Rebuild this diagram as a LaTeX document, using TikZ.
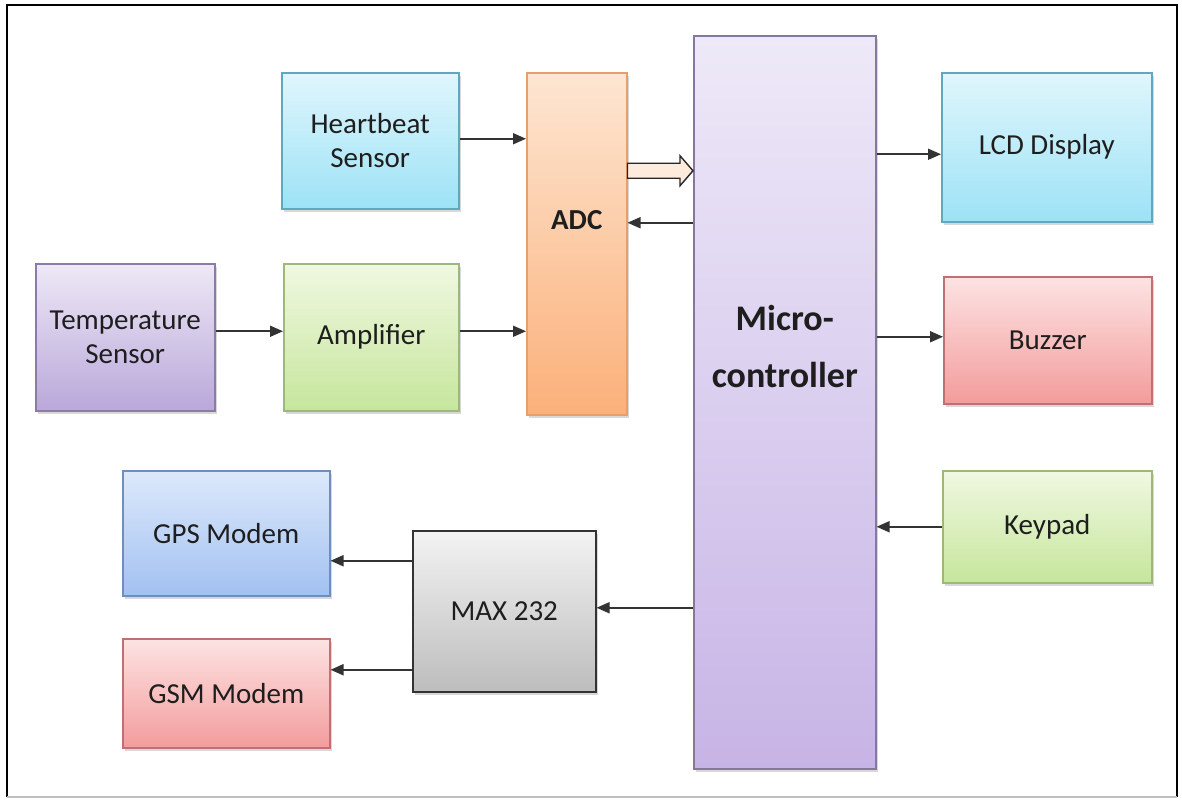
\documentclass[tikz,border=0pt]{standalone}
\usepackage{fontspec}
\setmainfont{Carlito}
\usetikzlibrary{arrows.meta,shadows,calc}
\definecolor{cyT}{HTML}{E0F6FC}\definecolor{cyB}{HTML}{9DE2F6}\definecolor{cyD}{HTML}{5FA9BE}
\definecolor{puT}{HTML}{EEE8F6}\definecolor{puB}{HTML}{B9A8DA}\definecolor{puD}{HTML}{8C7AA8}
\definecolor{grT}{HTML}{F0F8E2}\definecolor{grB}{HTML}{C6E69C}\definecolor{grD}{HTML}{9DB878}
\definecolor{orT}{HTML}{FDE6D2}\definecolor{orB}{HTML}{FBB07A}\definecolor{orD}{HTML}{E8A06A}
\definecolor{mcT}{HTML}{EEE9F8}\definecolor{mcB}{HTML}{C7B4E6}\definecolor{mcD}{HTML}{86789C}
\definecolor{rdT}{HTML}{FDE3E3}\definecolor{rdB}{HTML}{F39C9C}\definecolor{rdD}{HTML}{C07070}
\definecolor{blT}{HTML}{DDE9FB}\definecolor{blB}{HTML}{A2C1F1}\definecolor{blD}{HTML}{6F8FB8}
\definecolor{gyT}{HTML}{F3F3F3}\definecolor{gyB}{HTML}{BDBDBD}\definecolor{gyD}{HTML}{333333}
\definecolor{hol}{HTML}{FDEBDD}
\definecolor{txt}{HTML}{1E1E1E}
\begin{document}
\begin{tikzpicture}[x=1pt,y=-1pt,
  box/.style={draw, line width=1.5pt, inner sep=0pt, align=center, anchor=north west,
    font=\fontsize{29}{34}\selectfont, text=txt,
    drop shadow={opacity=0.3,shadow xshift=2pt,shadow yshift=-3pt}},
  cyanbox/.style={box, draw=cyD, top color=cyT, bottom color=cyB},
  purplebox/.style={box, draw=puD, top color=puT, bottom color=puB},
  greenbox/.style={box, draw=grD, top color=grT, bottom color=grB},
  orangebox/.style={box, draw=orD, top color=orT, bottom color=orB},
  mcbox/.style={box, draw=mcD, top color=mcT, bottom color=mcB},
  redbox/.style={box, draw=rdD, top color=rdT, bottom color=rdB},
  bluebox/.style={box, draw=blD, top color=blT, bottom color=blB},
  graybox/.style={box, draw=gyD, top color=gyT, bottom color=gyB},
  arr/.style={-{Triangle[length=13pt,width=11pt]}, line width=1.7pt, draw=black!80},
]
\useasboundingbox (0,0) rectangle (1182,801);
\fill[white] (0,0) rectangle (1182,801);
\draw[line width=2pt, black] (7,797) -- (7,5) -- (1177,5) -- (1177,797);
\draw[line width=1.5pt, black!25] (7,797) -- (1177,797);

\node[cyanbox, minimum width=177pt, minimum height=136pt] (hb) at (281,72) {Heartbeat\\Sensor};
\node[purplebox, minimum width=179pt, minimum height=147pt] (temp) at (35,263) {Temperature\\Sensor};
\node[greenbox, minimum width=175pt, minimum height=147pt] (amp) at (283,263) {Amplifier};
\node[orangebox, minimum width=100pt, minimum height=342pt,
  label={[font=\fontsize{29}{34}\selectfont\bfseries, text=txt, yshift=24pt]center:ADC}] (adc) at (526,72) {};
\node[mcbox, minimum width=182pt, minimum height=733pt,
  label={[font=\fontsize{36}{57}\selectfont\bfseries, text=txt, align=center, yshift=56pt]center:Micro-\\controller}] (mc) at (693,35) {};
\node[cyanbox, minimum width=210pt, minimum height=149pt] (lcd) at (941,72) {LCD Display};
\node[redbox, minimum width=208pt, minimum height=127pt] (buz) at (943,276) {Buzzer};
\node[greenbox, minimum width=209pt, minimum height=112pt] (key) at (942,470) {Keypad};
\node[bluebox, minimum width=207pt, minimum height=125pt] (gps) at (122,470) {GPS Modem};
\node[redbox, minimum width=207pt, minimum height=109pt] (gsm) at (122,638) {GSM Modem};
\node[graybox, minimum width=183pt, minimum height=161pt] (max) at (412,530) {MAX 232};

% connectors
\draw[arr] ([yshift=2pt]hb.east) -- ([yshift=2pt]hb.east -| adc.west);
\draw[arr] ([yshift=6pt]temp.east) -- ([yshift=6pt]amp.west);
\coordinate (a1) at ([yshift=6pt]amp.east);
\draw[arr] (a1) -- (a1 -| adc.west);
% hollow block arrow ADC -> MC
\coordinate (h0) at ([yshift=73pt]adc.east);
\coordinate (h1) at (h0 -| mc.west);
\draw[line width=1.4pt, draw=black!85, fill=hol]
  ($(h0)+(0,-7.5)$) -- ($(h1)+(-13,-7.5)$) -- ($(h1)+(-13,-15)$) -- (h1)
  -- ($(h1)+(-13,15)$) -- ($(h1)+(-13,7.5)$) -- ($(h0)+(0,7.5)$) -- cycle;
\coordinate (c2) at ([yshift=179.5pt]mc.west);
\draw[arr] (c2) -- (c2 -| adc.east);
\coordinate (c3) at ([yshift=-7pt]lcd.west);
\draw[arr] (c3 -| mc.east) -- (c3);
\coordinate (c4) at ([yshift=3.5pt]buz.west);
\draw[arr] (c4 -| mc.east) -- (c4);
\draw[arr] (key.west) -- (key.west -| mc.east);
\coordinate (c5) at ([yshift=3.5pt]max.east);
\draw[arr] (c5 -| mc.west) -- (c5);
\coordinate (c6) at ([yshift=50.5pt]max.west);
\draw[arr] (c6) -- (c6 -| gps.east);
\coordinate (c7) at ([yshift=-58.5pt]max.west);
\draw[arr] (c7) -- (c7 -| gsm.east);
\end{tikzpicture}
\end{document}
